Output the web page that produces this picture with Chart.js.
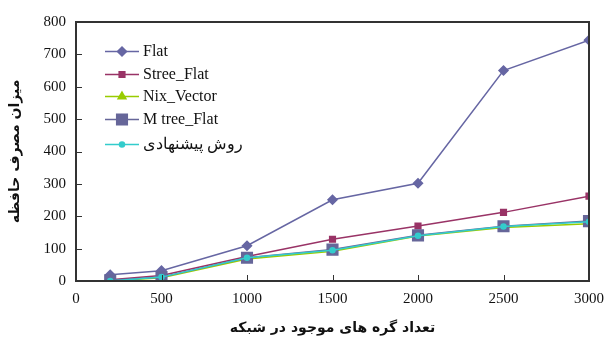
<!DOCTYPE html>
<html>
<head>
<meta charset="utf-8">
<script src="https://cdn.jsdelivr.net/npm/chart.js@4.4.0/dist/chart.umd.min.js"></script>
<style>
  body { margin: 0; background: #fff; }
  #wrap { position: relative; width: 607px; height: 341px; }
  #legend { position: absolute; left: 105px; top: 40px; font-family: 'Liberation Serif', serif; font-size: 16px; color: #111; }
  #legend .item { position: relative; height: 22.5px; line-height: 22px; }
  #legend .item:last-child { margin-top: 3px; }
  #legend canvas { position: absolute; left: 0; top: 0; }
  #legend span { position: absolute; left: 38px; top: 0; white-space: nowrap; }
</style>
</head>
<body>
<div id="wrap">
  <canvas id="chart" width="607" height="341"></canvas>
  <div id="legend"></div>
</div>
<script>
const nodes = [200, 500, 1000, 1500, 2000, 2500, 3000];
const flat = [19, 32, 109, 251, 302, 650, 744];
const streeFlat = [4, 17, 76, 129, 170, 212, 262];
const nixVector = [0, 10, 68, 92, 139, 165, 177];
const mtreeFlat = [2, 12, 72, 97, 141, 169, 185];
const proposed = [0, 12, 72, 95, 140, 168, 183];
const xTitle = 'تعداد گره های موجود در شبکه';
const yTitle = 'میزان مصرف حافظه';

function pts(vals) {
    return vals.map((v, i) => ({ x: nodes[i], y: v }));
}

const series = [
    { label: 'Flat', data: flat, color: '#6666a3', style: 'rectRot', radius: 4.5, order: 4 },
    { label: 'Stree_Flat', data: streeFlat, color: '#993366', style: 'rect', radius: 4, order: 3 },
    { label: 'Nix_Vector', data: nixVector, color: '#99cc00', style: 'triangle', radius: 4.5, order: 2 },
    { label: 'M tree_Flat', data: mtreeFlat, color: '#666699', style: 'rect', radius: 7.5, order: 1 },
    { label: 'روش پیشنهادی', data: proposed, color: '#33cccc', style: 'circle', radius: 2.5, order: 0 }
];

// frame + inside tick marks
const frame = {
    id: 'frame',
    afterDraw(chart) {
        const { ctx, chartArea: a, scales } = chart;
        ctx.save();
        ctx.strokeStyle = '#333';
        ctx.lineWidth = 2;
        ctx.strokeRect(a.left, a.top, a.right - a.left, a.bottom - a.top);
        ctx.lineWidth = 1;
        ctx.beginPath();
        scales.y.ticks.forEach(t => {
            const y = Math.round(scales.y.getPixelForValue(t.value)) + 0.5;
            ctx.moveTo(a.left, y); ctx.lineTo(a.left + 6, y);
        });
        scales.x.ticks.forEach(t => {
            const x = Math.round(scales.x.getPixelForValue(t.value)) + 0.5;
            ctx.moveTo(x, a.bottom); ctx.lineTo(x, a.bottom - 6);
        });
        ctx.stroke();
        ctx.restore();
    }
};

new Chart(document.getElementById('chart'), {
    type: 'line',
    data: {
        datasets: series.map(s => ({
            label: s.label,
            data: pts(s.data),
            borderColor: s.color,
            backgroundColor: s.color,
            pointBackgroundColor: s.color,
            pointBorderColor: s.color,
            pointStyle: s.style,
            pointRadius: s.radius,
            borderWidth: 1.5,
            tension: 0,
            order: s.order
        }))
    },
    options: {
        responsive: false,
        animation: false,
        layout: { padding: { top: 22, right: 18 } },
        plugins: { legend: { display: false }, tooltip: { enabled: false } },
        scales: {
            x: {
                type: 'linear', min: 0, max: 3000,
                ticks: { stepSize: 500, color: '#111', padding: 1, maxRotation: 0,
                    callback: v => String(v),
                    font: { family: 'Liberation Serif', size: 15 } },
                grid: { display: false },
                border: { display: false },
                title: { display: true, text: xTitle, color: '#111', padding: { top: 1 },
                    font: { family: 'DejaVu Sans', size: 14, weight: 'bold' } },
                afterFit: s => { s.height = 60; }
            },
            y: {
                min: 0, max: 800,
                ticks: { stepSize: 100, color: '#111', padding: 2,
                    font: { family: 'Liberation Serif', size: 15 } },
                grid: { display: false },
                border: { display: false },
                title: { display: true, text: yTitle, color: '#111', padding: { top: 7, bottom: 0 },
                    font: { family: 'DejaVu Sans', size: 14, weight: 'bold' } },
                afterFit: s => { s.width = 76; }
            }
        }
    },
    plugins: [frame]
});

// legend inside the plot
const legend = document.getElementById('legend');
series.forEach(s => {
    const item = document.createElement('div');
    item.className = 'item';
    const c = document.createElement('canvas');
    c.width = 36; c.height = 22;
    const g = c.getContext('2d');
    g.strokeStyle = s.color; g.lineWidth = 1.5;
    g.beginPath(); g.moveTo(0, 11.5); g.lineTo(34, 11.5); g.stroke();
    g.fillStyle = s.color; g.strokeStyle = s.color;
    Chart.helpers.drawPoint(g, { pointStyle: s.style, radius: s.radius, borderWidth: 1 }, 17, 11.5);
    const t = document.createElement('span');
    t.textContent = s.label;
    item.appendChild(c); item.appendChild(t);
    legend.appendChild(item);
});
</script>
</body>
</html>
